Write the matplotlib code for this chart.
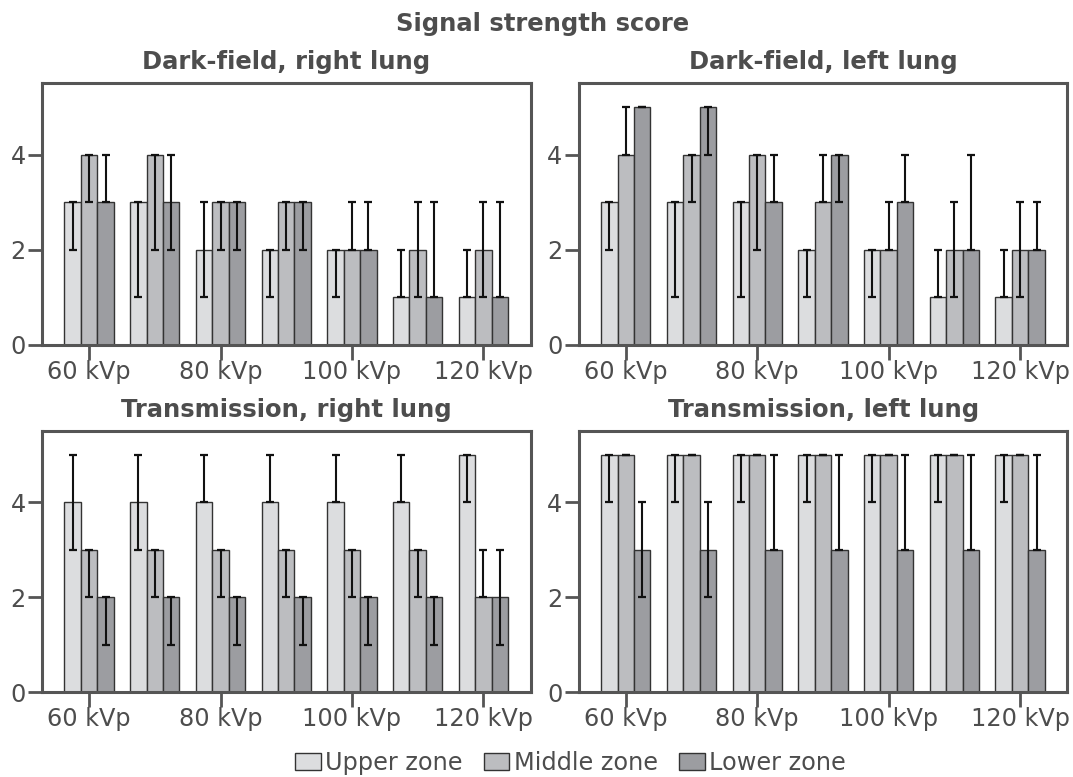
import matplotlib
matplotlib.use("Agg")
import matplotlib.pyplot as plt
import numpy as np
from matplotlib.patches import Patch

groups = ["60 kVp", "70 kVp", "80 kVp", "90 kVp", "100 kVp", "110 kVp", "120 kVp"]
tick_labels = ["60 kVp", "80 kVp", "100 kVp", "120 kVp"]
zones = ["Upper zone", "Middle zone", "Lower zone"]
zone_colors = ["#dcdddf", "#bcbdc0", "#9c9da1"]

titles = ["Dark-field, right lung", "Dark-field, left lung",
          "Transmission, right lung", "Transmission, left lung"]

# Dark-field, right lung: values, low, high per zone
df_right_val = [[3, 3, 2, 2, 2, 1, 1],
                [4, 4, 3, 3, 2, 2, 2],
                [3, 3, 3, 3, 2, 1, 1]]
df_right_lo = [[2, 1, 1, 1, 1, 1, 1],
               [3, 2, 2, 2, 2, 1, 1],
               [3, 2, 2, 2, 2, 1, 1]]
df_right_hi = [[3, 3, 3, 2, 2, 2, 2],
               [4, 4, 3, 3, 3, 3, 3],
               [4, 4, 3, 3, 3, 3, 3]]

# Dark-field, left lung
df_left_val = [[3, 3, 3, 2, 2, 1, 1],
               [4, 4, 4, 3, 2, 2, 2],
               [5, 5, 3, 4, 3, 2, 2]]
df_left_lo = [[2, 1, 1, 1, 1, 1, 1],
              [4, 3, 2, 3, 2, 1, 1],
              [5, 4, 3, 3, 3, 2, 2]]
df_left_hi = [[3, 3, 3, 2, 2, 2, 2],
              [5, 4, 4, 4, 3, 3, 3],
              [5, 5, 4, 4, 4, 4, 3]]

# Transmission, right lung
tr_right_val = [[4, 4, 4, 4, 4, 4, 5],
                [3, 3, 3, 3, 3, 3, 2],
                [2, 2, 2, 2, 2, 2, 2]]
tr_right_lo = [[3, 3, 4, 4, 4, 4, 4],
               [2, 2, 2, 2, 2, 2, 2],
               [1, 1, 1, 1, 1, 1, 1]]
tr_right_hi = [[5, 5, 5, 5, 5, 5, 5],
               [3, 3, 3, 3, 3, 3, 3],
               [2, 2, 2, 2, 2, 2, 3]]

# Transmission, left lung
tr_left_val = [[5, 5, 5, 5, 5, 5, 5],
               [5, 5, 5, 5, 5, 5, 5],
               [3, 3, 3, 3, 3, 3, 3]]
tr_left_lo = [[4, 4, 4, 4, 4, 4, 4],
              [5, 5, 5, 5, 5, 5, 5],
              [2, 2, 3, 3, 3, 3, 3]]
tr_left_hi = [[5, 5, 5, 5, 5, 5, 5],
              [5, 5, 5, 5, 5, 5, 5],
              [4, 4, 5, 5, 5, 5, 5]]

panels = [(df_right_val, df_right_lo, df_right_hi),
          (df_left_val, df_left_lo, df_left_hi),
          (tr_right_val, tr_right_lo, tr_right_hi),
          (tr_left_val, tr_left_lo, tr_left_hi)]

TXT = "#4d4d4d"
SP = "#555555"
W, H = 1073, 777
fig = plt.figure(figsize=(W / 100, H / 100), dpi=100)
plt.rcParams['font.family'] = ['DejaVu Sans']

boxes = [(42.3, 83.3, 530.7, 345), (579, 83.3, 1067.4, 345),
         (42.3, 431, 530.7, 692), (579, 431, 1067.4, 692)]

x = np.arange(len(groups))
bw = 0.25
for p, (box, title, (vals, los, his)) in enumerate(zip(boxes, titles, panels)):
    l, t, r, b = box
    ax = fig.add_axes([l / W, 1 - b / H, (r - l) / W, (b - t) / H])
    for z in range(3):
        xs = x + (z - 1) * bw
        v = np.array(vals[z], dtype=float)
        lo = np.array(los[z], dtype=float)
        hi = np.array(his[z], dtype=float)
        ax.bar(xs, v, width=bw, color=zone_colors[z], edgecolor="#333333",
               linewidth=1.0, zorder=2)
        ax.errorbar(xs, v, yerr=[v - lo, hi - v], fmt="none", ecolor="#111111",
                    elinewidth=1.5, capsize=3, capthick=1.6, zorder=3)
    ax.set_xlim(-0.712, 6.72)
    ax.set_ylim(0, 5.5)
    ax.set_xticks(x[::2])
    ax.set_xticklabels(tick_labels)
    ax.set_yticks([0, 2, 4])
    ax.tick_params(axis="x", length=11, width=2, color=SP, pad=0,
                   labelsize=17.3, labelcolor=TXT)
    ax.tick_params(axis="y", length=10, width=2, color=SP, pad=2,
                   labelsize=17.3, labelcolor=TXT)
    for s in ax.spines.values():
        s.set_color(SP)
        s.set_linewidth(2.2)
    ax.set_title(title, fontsize=17.5, fontweight="bold", color=TXT, pad=10)

fig.suptitle("Signal strength score", fontsize=17.5, fontweight="bold",
             color=TXT, x=543 / W, y=1 - 24 / H, va="center")

handles = [Patch(facecolor=c, edgecolor="#333333", linewidth=1.0) for c in zone_colors]
fig.legend(handles, zones, loc="center", bbox_to_anchor=(570.5 / W, 1 - 763 / H),
           ncol=3, frameon=False, fontsize=17.3, labelcolor=TXT,
           handlelength=1.07, handleheight=0.7, handletextpad=0.2,
           columnspacing=0.86, borderpad=0.2)

fig.savefig("out.png", dpi=100)
